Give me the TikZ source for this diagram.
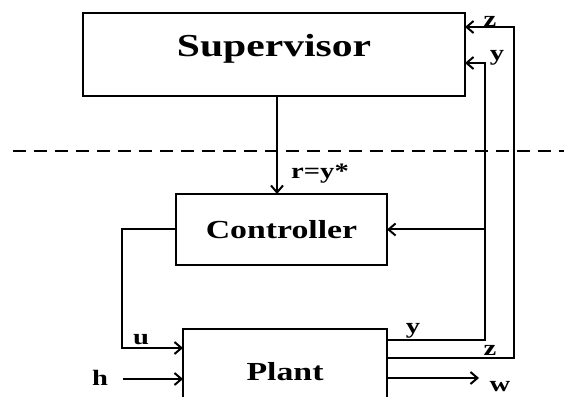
\documentclass[tikz,border=0pt]{standalone}
\usepackage{fontspec}
\setmainfont{Liberation Serif}[FakeStretch=1.3]
\usetikzlibrary{positioning,arrows.meta}

\begin{document}
\begin{tikzpicture}[
  font=\bfseries,
  blk/.style={draw,line width=2pt,outer sep=0pt,inner sep=0pt,font=\bfseries\fontsize{26}{30}\selectfont},
  lbl/.style={inner sep=0pt,font=\bfseries\fontsize{22}{26}\selectfont},
  arr/.style={-{Straight Barb[length=7pt,width=12pt]},line width=2pt},
  sep/.style={line width=1.5pt,dash pattern=on 13pt off 8pt}
]
\useasboundingbox (0,0) rectangle (564pt,396pt);
% blocks
\node[blk,minimum width=382pt,minimum height=83pt,
  label={[font=\bfseries\fontsize{32}{36}\selectfont,yshift=6pt]center:Supervisor}] (sup) at (274pt,341.5pt) {};
\node[blk,minimum width=211pt,minimum height=71pt,below=98pt of sup,xshift=7.5pt] (ctrl) {Controller};
\node[blk,minimum width=204pt,minimum height=86pt,anchor=north east] (plant) at ([yshift=-64pt]ctrl.south east) {Plant};
% level separator
\coordinate (sepL) at (13pt,245pt);
\coordinate (sepR) at (564pt,245pt);
\draw[sep] (sepL) -- (sepR);
% ports and buses
\coordinate (yin) at ([yshift=-8.5pt]sup.east);
\coordinate (zin) at ([yshift=27.5pt]sup.east);
\coordinate (yout) at ([yshift=32pt]plant.east);
\coordinate (zout) at ([yshift=14pt]plant.east);
\coordinate (wout) at ([yshift=-6pt]plant.east);
\coordinate (uin) at ([yshift=24pt]plant.west);
\coordinate (hin) at ([yshift=-7pt]plant.west);
\coordinate (ybus) at (485pt,0pt);
\coordinate (zbus) at (514pt,0pt);
\coordinate (ubus) at (122pt,0pt);
\coordinate (hsrc) at (123pt,0pt);
\coordinate (wend) at (479pt,0pt);
\coordinate (ref) at ([xshift=3pt]sup.south);
% connectors
\draw[arr] (ref) -- (ref |- ctrl.north);
\draw[arr] (yout) -| (ybus |- yin) -- (yin);
\draw[arr] (zout) -| (zbus |- zin) -- (zin);
\draw[arr] (ybus |- ctrl.east) -- (ctrl.east);
\draw[arr] (ctrl.west) -| (ubus |- uin) -- (uin);
\draw[arr] (hsrc |- hin) -- (hin);
\draw[arr] (wout) -- (wend |- wout);
% signal names
\node[lbl] at ([xshift=25pt,yshift=6pt]zin) {z};
\node[lbl] at ([xshift=32pt,yshift=5pt]yin) {y};
\node[lbl] at ([xshift=38.5pt,yshift=20pt]ctrl.north) {r=y*};
\node[lbl] at ([xshift=-42pt,yshift=8pt]uin) {u};
\node[lbl] at ([xshift=-23pt,yshift=1pt]hsrc |- hin) {h};
\node[lbl] at ([xshift=26pt,yshift=9pt]yout) {y};
\node[lbl] at ([xshift=103pt,yshift=8pt]zout) {z};
\node[lbl] at ([xshift=21pt,yshift=-9pt]wend |- wout) {w};
\end{tikzpicture}
\end{document}
